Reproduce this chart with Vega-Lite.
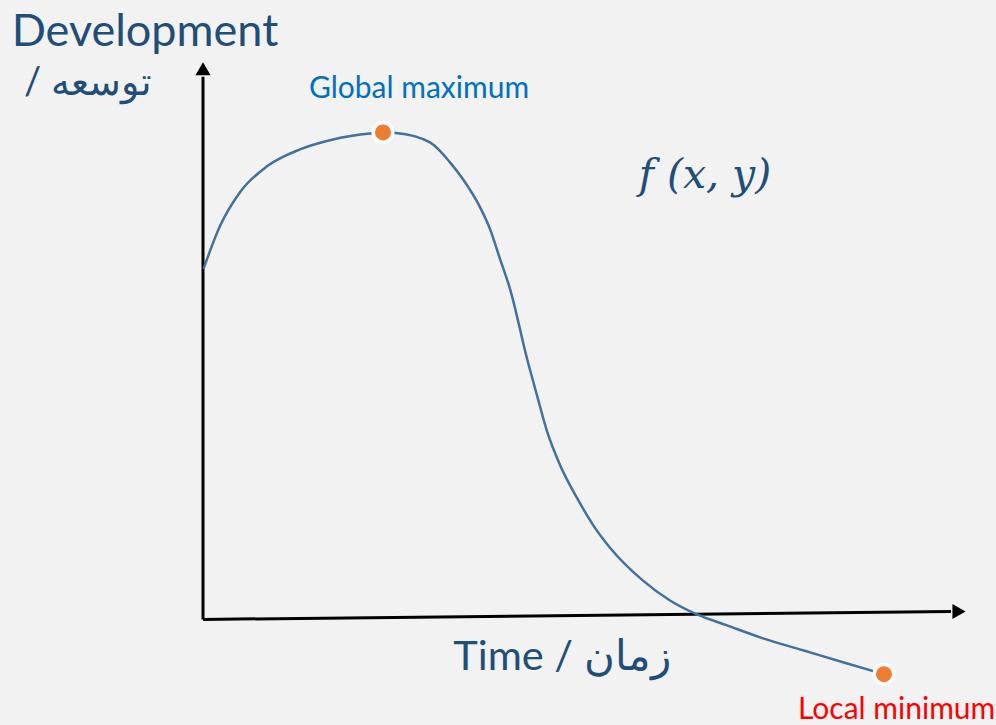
{
  "$schema": "https://vega.github.io/schema/vega-lite/v6.json",
  "width": 996,
  "height": 725,
  "autosize": {"type": "fit", "contains": "padding"},
  "padding": 0,
  "background": "#f2f2f2",
  "config": {"view": {"stroke": null}},
  "datasets": {
    "curve": [
      {"t": 0.005, "v": 3.52}, {"t": 0.17, "v": 3.95}, {"t": 0.37, "v": 4.29},
      {"t": 0.64, "v": 4.55}, {"t": 0.97, "v": 4.72}, {"t": 1.30, "v": 4.82},
      {"t": 1.67, "v": 4.88}, {"t": 1.80, "v": 4.89}, {"t": 1.93, "v": 4.885},
      {"t": 2.27, "v": 4.79}, {"t": 2.47, "v": 4.59}, {"t": 2.60, "v": 4.42},
      {"t": 2.77, "v": 4.14}, {"t": 2.87, "v": 3.92}, {"t": 2.97, "v": 3.62},
      {"t": 3.07, "v": 3.32}, {"t": 3.24, "v": 2.62}, {"t": 3.34, "v": 2.25},
      {"t": 3.44, "v": 1.89}, {"t": 3.57, "v": 1.55}, {"t": 3.74, "v": 1.22},
      {"t": 3.90, "v": 0.95}, {"t": 4.07, "v": 0.72}, {"t": 4.40, "v": 0.39},
      {"t": 4.67, "v": 0.19}, {"t": 4.94, "v": 0.05}, {"t": 5.24, "v": -0.06},
      {"t": 5.60, "v": -0.19}, {"t": 6.00, "v": -0.31}, {"t": 6.40, "v": -0.43},
      {"t": 6.81, "v": -0.55}
    ],
    "axes": [
      {"axis": "y", "t": 0, "v": 0, "t2": 0, "v2": 5.45},
      {"axis": "x", "t": 0, "v": 0, "t2": 7.48, "v2": 0.08}
    ],
    "arrowUp": [{"t": 0, "v": 5.53}],
    "arrowRight": [{"t": 7.56, "v": 0.08}],
    "extrema": [
      {"name": "Global maximum", "t": 1.80, "v": 4.89},
      {"name": "Local minimum", "t": 6.81, "v": -0.55}
    ]
  },
  "encoding": {
    "x": {"field": "t", "type": "quantitative", "axis": null, "scale": {"domain": [-2.03, 7.93], "nice": false, "zero": false}},
    "y": {"field": "v", "type": "quantitative", "axis": null, "scale": {"domain": [-1.03, 6.22], "nice": false, "zero": false}}
  },
  "layer": [
    {
      "data": {"name": "axes"},
      "mark": {"type": "rule", "color": "#000000", "strokeWidth": 3},
      "encoding": {"x2": {"field": "t2"}, "y2": {"field": "v2"}}
    },
    {
      "data": {"name": "arrowUp"},
      "mark": {"type": "point", "shape": "triangle-up", "filled": true, "color": "#000000", "size": 230, "opacity": 1}
    },
    {
      "data": {"name": "arrowRight"},
      "mark": {"type": "point", "shape": "triangle-right", "filled": true, "color": "#000000", "size": 230, "opacity": 1}
    },
    {
      "data": {"name": "curve"},
      "mark": {"type": "line", "color": "#41719c", "strokeWidth": 2.5, "interpolate": "monotone"}
    },
    {
      "data": {"name": "extrema"},
      "mark": {"type": "point", "filled": true, "color": "#ed7d31", "stroke": "#ffffff", "strokeWidth": 3.5, "size": 380, "opacity": 1}
    },
    {
      "data": {"values": [{"label": "Development", "t": -0.58, "v": 5.76}]},
      "mark": {"type": "text", "font": "Lato", "fontSize": 45, "color": "#1f4e79", "align": "center", "baseline": "alphabetic"},
      "encoding": {"text": {"field": "label"}}
    },
    {
      "data": {"values": [{"label": "/ توسعه", "t": -1.15, "v": 5.27}]},
      "mark": {"type": "text", "font": "Lato", "fontSize": 38, "color": "#1f4e79", "align": "center", "baseline": "alphabetic"},
      "encoding": {"text": {"field": "label"}}
    },
    {
      "data": {"values": [{"label": "Time / زمان", "t": 3.59, "v": -0.51}]},
      "mark": {"type": "text", "font": "Lato", "fontSize": 41.5, "color": "#1f4e79", "align": "center", "baseline": "alphabetic"},
      "encoding": {"text": {"field": "label"}}
    },
    {
      "data": {"values": [{"label": "f (x, y)", "t": 5.02, "v": 4.33}]},
      "mark": {"type": "text", "font": "DejaVu Serif", "fontStyle": "italic", "fontSize": 41, "color": "#1f4e79", "align": "center", "baseline": "alphabetic"},
      "encoding": {"text": {"field": "label"}}
    },
    {
      "data": {"values": [{"label": "Global maximum", "t": 2.16, "v": 5.24}]},
      "mark": {"type": "text", "font": "Lato", "fontSize": 30, "color": "#0070c0", "align": "center", "baseline": "alphabetic"},
      "encoding": {"text": {"field": "label"}}
    },
    {
      "data": {"values": [{"label": "Local minimum", "t": 5.95, "v": -1.0}]},
      "mark": {"type": "text", "font": "Lato", "fontSize": 30, "color": "#ff0000", "align": "left", "baseline": "alphabetic"},
      "encoding": {"text": {"field": "label"}}
    }
  ]
}
